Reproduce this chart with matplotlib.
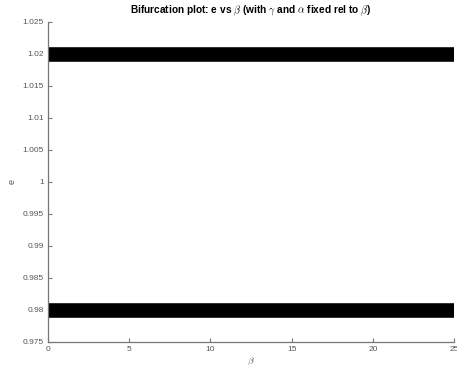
import matplotlib
matplotlib.use("Agg")
import matplotlib.pyplot as plt

plt.rcParams['font.family'] = ['Liberation Sans', 'DejaVu Sans']
plt.rcParams['mathtext.fontset'] = 'cm'

beta = [0, 25]
e_upper = [1.02, 1.02]
e_lower = [0.98, 0.98]
yticks = [0.975, 0.98, 0.985, 0.99, 0.995, 1, 1.005, 1.01, 1.015, 1.02, 1.025]
ytick_labels = ['0.975', '0.98', '0.985', '0.99', '0.995', '1', '1.005', '1.01', '1.015', '1.02', '1.025']
xticks = [0, 5, 10, 15, 20, 25]

fig = plt.figure(figsize=(4.57, 3.70), dpi=100)
ax = fig.add_axes([0.105, 0.0757, 0.889, 0.865])

ax.plot(beta, e_upper, color='black', linewidth=10.5, solid_capstyle='butt')
ax.plot(beta, e_lower, color='black', linewidth=10.5, solid_capstyle='butt')

ax.set_xlim(0, 25)
ax.set_ylim(0.975, 1.025)
ax.set_yticks(yticks)
ax.set_yticklabels(ytick_labels)
ax.set_xticks(xticks)

for s in ['top', 'right']:
    ax.spines[s].set_visible(False)
for s in ['left', 'bottom']:
    ax.spines[s].set_color('#777777')
    ax.spines[s].set_linewidth(0.9)
ax.tick_params(direction='in', length=3, width=0.8, color='#777777',
               labelsize=6, labelcolor='#555555', pad=3)

ax.set_title(r'Bifurcation plot: e vs $\beta$ (with $\gamma$ and $\alpha$ fixed rel to $\beta$)',
             fontsize=7.3, fontweight='bold', pad=6)
ax.set_xlabel(r'$\beta$', fontsize=7, color='#555555', labelpad=2)
ax.set_ylabel('e', fontsize=6.5, color='#555555', labelpad=4)

fig.savefig('out.png', dpi=100)
